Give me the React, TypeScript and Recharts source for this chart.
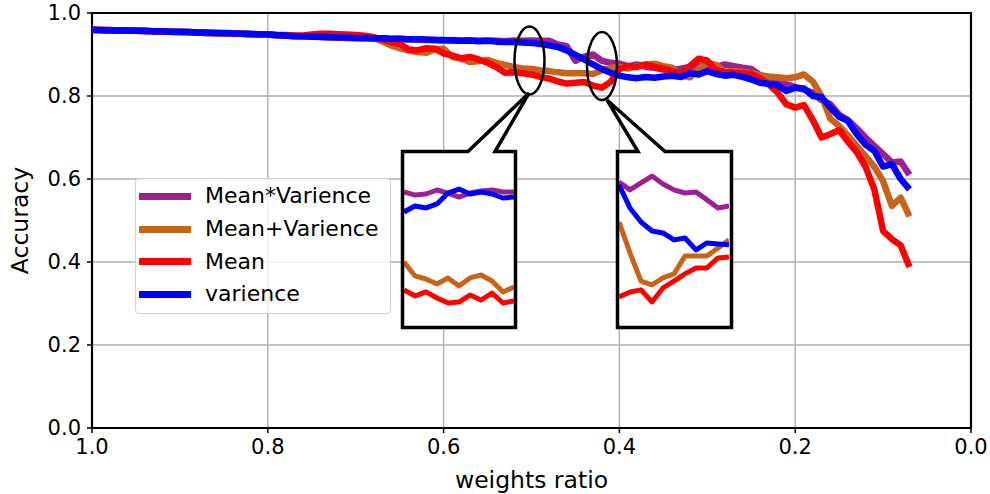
import React from "react";
import { CartesianGrid, Legend, Line, LineChart, ReferenceArea, XAxis, YAxis } from "recharts";

const font = "DejaVu Sans, Liberation Sans, sans-serif";

// weights ratio, 1.00 -> 0.07
const ratio = [
  1.0, 0.99, 0.98, 0.97, 0.96, 0.95, 0.94, 0.93, 0.92, 0.91,
  0.9, 0.89, 0.88, 0.87, 0.86, 0.85, 0.84, 0.83, 0.82, 0.81,
  0.8, 0.79, 0.78, 0.77, 0.76, 0.75, 0.74, 0.73, 0.72, 0.71,
  0.7, 0.69, 0.68, 0.67, 0.66, 0.65, 0.64, 0.63, 0.62, 0.61,
  0.6, 0.59, 0.58, 0.57, 0.56, 0.55, 0.54, 0.53, 0.52, 0.51,
  0.5, 0.49, 0.48, 0.47, 0.46, 0.45, 0.44, 0.43, 0.42, 0.41,
  0.4, 0.39, 0.38, 0.37, 0.36, 0.35, 0.34, 0.33, 0.32, 0.31,
  0.3, 0.29, 0.28, 0.27, 0.26, 0.25, 0.24, 0.23, 0.22, 0.21,
  0.2, 0.19, 0.18, 0.17, 0.16, 0.15, 0.14, 0.13, 0.12, 0.11,
  0.1, 0.09, 0.08, 0.07,
];

const meanTimesVar = [
  0.96, 0.959, 0.959, 0.958, 0.957, 0.957, 0.956, 0.956, 0.955, 0.955,
  0.954, 0.954, 0.953, 0.952, 0.952, 0.951, 0.951, 0.95, 0.949, 0.948,
  0.948, 0.946, 0.945, 0.945, 0.943, 0.944, 0.942, 0.941, 0.941, 0.94,
  0.94, 0.939, 0.938, 0.939, 0.937, 0.938, 0.936, 0.936, 0.935, 0.935,
  0.934, 0.935, 0.933, 0.934, 0.933, 0.934, 0.933, 0.932, 0.934, 0.933,
  0.934, 0.933, 0.933, 0.924, 0.92, 0.885, 0.895, 0.9, 0.885, 0.88,
  0.878, 0.872, 0.876, 0.87, 0.868, 0.864, 0.862, 0.866, 0.87, 0.872,
  0.875, 0.87, 0.876, 0.872, 0.868, 0.865, 0.85, 0.842, 0.835, 0.828,
  0.822, 0.815, 0.808, 0.79, 0.78, 0.755, 0.742, 0.722, 0.7, 0.68,
  0.66, 0.64, 0.642, 0.61,
];

const meanPlusVar = [
  0.959, 0.958, 0.958, 0.957, 0.957, 0.957, 0.956, 0.955, 0.955, 0.954,
  0.954, 0.953, 0.953, 0.952, 0.951, 0.951, 0.95, 0.95, 0.949, 0.948,
  0.948, 0.946, 0.945, 0.944, 0.943, 0.943, 0.942, 0.941, 0.941, 0.94,
  0.94, 0.939, 0.94, 0.932, 0.922, 0.915, 0.91, 0.906, 0.904, 0.912,
  0.914, 0.894, 0.89, 0.882, 0.884, 0.887, 0.88, 0.875, 0.87, 0.866,
  0.865, 0.862, 0.86, 0.857, 0.855, 0.855, 0.855, 0.853, 0.862, 0.868,
  0.87, 0.866, 0.872, 0.875, 0.878, 0.872, 0.868, 0.85, 0.845, 0.865,
  0.88, 0.875, 0.858, 0.86, 0.858, 0.855, 0.85, 0.847, 0.845, 0.843,
  0.845, 0.852, 0.835, 0.8, 0.745, 0.728, 0.705, 0.68, 0.655, 0.63,
  0.595, 0.535, 0.555, 0.51,
];

const meanOnly = [
  0.96, 0.959, 0.959, 0.958, 0.958, 0.957, 0.957, 0.956, 0.955, 0.955,
  0.954, 0.954, 0.953, 0.952, 0.952, 0.951, 0.95, 0.95, 0.949, 0.949,
  0.948, 0.947, 0.947, 0.946, 0.946, 0.948, 0.95, 0.95, 0.949, 0.948,
  0.947, 0.945, 0.942, 0.936, 0.93, 0.926, 0.912, 0.91, 0.915, 0.914,
  0.903, 0.897, 0.891, 0.894, 0.888, 0.88, 0.87, 0.856, 0.857, 0.855,
  0.852, 0.846, 0.842, 0.835, 0.83, 0.832, 0.834, 0.825, 0.82, 0.834,
  0.865, 0.872, 0.87, 0.876, 0.87, 0.866, 0.86, 0.854, 0.872, 0.89,
  0.885, 0.862, 0.858, 0.856, 0.855, 0.853, 0.843, 0.828, 0.808, 0.78,
  0.772, 0.778, 0.742, 0.7, 0.708, 0.718, 0.69, 0.665, 0.63, 0.575,
  0.475, 0.455, 0.44, 0.388,
];

const varianceOnly = [
  0.959, 0.959, 0.958, 0.958, 0.958, 0.957, 0.957, 0.956, 0.956, 0.955,
  0.955, 0.954, 0.953, 0.953, 0.952, 0.952, 0.951, 0.95, 0.95, 0.949,
  0.949, 0.947, 0.946, 0.944, 0.944, 0.943, 0.943, 0.942, 0.941, 0.941,
  0.94, 0.94, 0.939, 0.939, 0.938, 0.938, 0.937, 0.937, 0.936, 0.935,
  0.935, 0.934, 0.933, 0.934, 0.932, 0.933, 0.931, 0.93, 0.93, 0.929,
  0.928, 0.925, 0.922, 0.918, 0.91, 0.899, 0.888, 0.876, 0.865, 0.856,
  0.849, 0.845, 0.843, 0.846, 0.844, 0.847, 0.849, 0.846, 0.855, 0.852,
  0.86, 0.853, 0.849, 0.851, 0.846, 0.84, 0.832, 0.829, 0.826, 0.812,
  0.82, 0.818, 0.8, 0.797, 0.772, 0.75, 0.74, 0.708, 0.683, 0.668,
  0.63, 0.636, 0.6, 0.575,
];

// zoomed insets (finer sampling)
const zoomA_ratio = [0.525, 0.521, 0.517, 0.513, 0.509, 0.505, 0.501, 0.497, 0.493, 0.489, 0.485];
const zoomA_mv = [0.9357, 0.9334, 0.9342, 0.9372, 0.9349, 0.9319, 0.9349, 0.9364, 0.9372, 0.9357, 0.9357];
const zoomA_mpv = [0.8831, 0.8726, 0.8703, 0.8666, 0.8711, 0.8651, 0.8711, 0.8733, 0.8688, 0.8606, 0.8643];
const zoomA_m = [0.8621, 0.8575, 0.8606, 0.856, 0.8523, 0.853, 0.8583, 0.8545, 0.8598, 0.8523, 0.8538];
const zoomA_v = [0.9207, 0.9252, 0.9237, 0.9267, 0.9349, 0.9379, 0.9342, 0.9357, 0.9342, 0.9312, 0.9319];

const zoomB_ratio = [0.44, 0.436, 0.432, 0.428, 0.424, 0.42, 0.416, 0.412, 0.408, 0.404, 0.4];
const zoomB_mv = [0.8899, 0.8858, 0.8894, 0.893, 0.8889, 0.8858, 0.8842, 0.8847, 0.8806, 0.8764, 0.8774];
const zoomB_mpv = [0.8691, 0.853, 0.8384, 0.8364, 0.84, 0.8421, 0.8514, 0.8514, 0.8514, 0.8556, 0.8598];
const zoomB_m = [0.8301, 0.8327, 0.8338, 0.8275, 0.8348, 0.8384, 0.8421, 0.8452, 0.8452, 0.8504, 0.8509];
const zoomB_v = [0.8884, 0.8764, 0.8691, 0.8644, 0.8634, 0.8598, 0.8608, 0.8546, 0.8582, 0.8577, 0.8572];

const xTicks = [1.0, 0.8, 0.6, 0.4, 0.2, 0.0];
const yTicks = [0.0, 0.2, 0.4, 0.6, 0.8, 1.0];

const series = [
  { key: "mv", name: "Mean*Varience", color: "#9a2290" },
  { key: "mpv", name: "Mean+Varience", color: "#c8641a" },
  { key: "m", name: "Mean", color: "#ff0000" },
  { key: "v", name: "varience", color: "#0000ff" },
];

const mainRows = ratio.map((r, i) => ({
  ratio: r,
  mv: meanTimesVar[i],
  mpv: meanPlusVar[i],
  m: meanOnly[i],
  v: varianceOnly[i],
}));

const zoomARows = zoomA_ratio.map((r, i) => ({ ratio: r, mv: zoomA_mv[i], mpv: zoomA_mpv[i], m: zoomA_m[i], v: zoomA_v[i] }));
const zoomBRows = zoomB_ratio.map((r, i) => ({ ratio: r, mv: zoomB_mv[i], mpv: zoomB_mpv[i], m: zoomB_m[i], v: zoomB_v[i] }));

const tickStyle = { fill: "#000", fontSize: 21, fontFamily: font };

function LegendBox() {
  return (
    <div
      style={{
        width: 256,
        height: 136,
        background: "rgba(255,255,255,0.8)",
        border: "1px solid #d0d0d0",
        borderRadius: 4,
        boxSizing: "border-box",
        paddingTop: 1,
      }}
    >
      {series.map((s) => (
        <div key={s.key} style={{ display: "flex", alignItems: "center", height: 32.7 }}>
          <div style={{ width: 52, height: 7, marginLeft: 3, background: s.color, flexShrink: 0 }} />
          <span style={{ marginLeft: 14, fontSize: 22, fontFamily: font, color: "#000", lineHeight: "32px", whiteSpace: "nowrap" }}>
            {s.name}
          </span>
        </div>
      ))}
    </div>
  );
}

function Inset({ rows, xDomain, yDomain, left, top }: any) {
  return (
    <div style={{ position: "absolute", left, top }}>
      <LineChart width={110} height={173} data={rows} margin={{ top: 0, right: 0, bottom: 0, left: 0 }}>
        <XAxis dataKey="ratio" type="number" domain={xDomain} reversed hide allowDataOverflow />
        <YAxis type="number" domain={yDomain} hide allowDataOverflow />
        {series.map((s) => (
          <Line
            key={s.key}
            dataKey={s.key}
            stroke={s.color}
            strokeWidth={5}
            dot={false}
            strokeLinejoin="round"
            isAnimationActive={false}
          />
        ))}
      </LineChart>
    </div>
  );
}

const calloutA = "M402.5,151.5 L468,151.5 L529,93 L495,151.5 L515.5,151.5 L515.5,327.5 L402.5,327.5 Z";
const calloutB = "M617.5,151.5 L638,151.5 L607,100 L665,151.5 L731.5,151.5 L731.5,327.5 L617.5,327.5 Z";

export default function App() {
  return (
    <div style={{ position: "absolute", left: 0, top: 0, width: 990, height: 494, background: "#fff" }}>
      <LineChart width={990} height={494} data={mainRows} margin={{ top: 13, right: 19, bottom: 0, left: 32 }}>
        <CartesianGrid stroke="#b0b0b0" strokeWidth={1.4} />
        <XAxis
          dataKey="ratio"
          type="number"
          domain={[0, 1]}
          reversed
          ticks={xTicks}
          tickFormatter={(v: number) => v.toFixed(1)}
          height={66}
          tickSize={5}
          tickMargin={6}
          axisLine={false}
          tickLine={{ stroke: "#000", strokeWidth: 1.5 }}
          tick={tickStyle}
        />
        <YAxis
          type="number"
          domain={[0, 1]}
          ticks={yTicks}
          tickFormatter={(v: number) => v.toFixed(1)}
          width={60}
          tickSize={5}
          tickMargin={6}
          axisLine={false}
          tickLine={{ stroke: "#000", strokeWidth: 1.5 }}
          tick={tickStyle}
        />
        {series.map((s) => (
          <Line
            key={s.key}
            dataKey={s.key}
            name={s.name}
            stroke={s.color}
            strokeWidth={6.5}
            dot={false}
            strokeLinejoin="round"
            isAnimationActive={false}
          />
        ))}
        <ReferenceArea x1={1} x2={0} y1={0} y2={1} fill="none" fillOpacity={0} stroke="#000" strokeWidth={2.2} />
        <Legend
          layout="vertical"
          align="center"
          verticalAlign="middle"
          wrapperStyle={{ position: "absolute", left: 135, top: 178, width: 256, height: 136 }}
          content={() => <LegendBox />}
        />
      </LineChart>

      <svg width={990} height={494} style={{ position: "absolute", left: 0, top: 0, pointerEvents: "none" }}>
        <ellipse cx={529.5} cy={60.5} rx={15} ry={34} fill="none" stroke="#000" strokeWidth={2.5} />
        <ellipse cx={602} cy={66} rx={15} ry={34} fill="none" stroke="#000" strokeWidth={2.5} />
        <path d={calloutA} fill="#fff" stroke="none" />
        <path d={calloutB} fill="#fff" stroke="none" />
        <text x={531.5} y={488} textAnchor="middle" fontSize={23.5} fontFamily={font} fill="#000">
          weights ratio
        </text>
        <text
          x={0}
          y={0}
          transform="translate(28,220.5) rotate(-90)"
          textAnchor="middle"
          fontSize={23.5}
          fontFamily={font}
          fill="#000"
        >
          Accuracy
        </text>
      </svg>

      <Inset rows={zoomARows} xDomain={[0.485, 0.525]} yDomain={[0.835, 0.965]} left={404} top={153} />
      <Inset rows={zoomBRows} xDomain={[0.4, 0.44]} yDomain={[0.815, 0.905]} left={619} top={153} />

      <svg width={990} height={494} style={{ position: "absolute", left: 0, top: 0, pointerEvents: "none" }}>
        <path d={calloutA} fill="none" stroke="#000" strokeWidth={3.5} strokeLinejoin="miter" />
        <path d={calloutB} fill="none" stroke="#000" strokeWidth={3.5} strokeLinejoin="miter" />
      </svg>
    </div>
  );
}
